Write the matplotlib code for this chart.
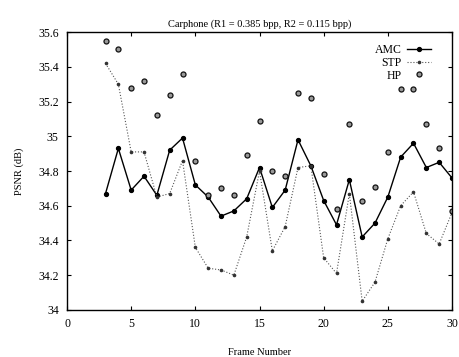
import matplotlib
matplotlib.use("Agg")
import matplotlib.pyplot as plt
from matplotlib.ticker import FuncFormatter

plt.rcParams['font.family'] = ['Liberation Serif', 'DejaVu Serif']

frames = list(range(3, 31))
amc = [34.67, 34.93, 34.69, 34.77, 34.66, 34.92, 34.99, 34.72, 34.65, 34.54,
       34.57, 34.64, 34.82, 34.59, 34.69, 34.98, 34.83, 34.63, 34.49, 34.75,
       34.42, 34.50, 34.65, 34.88, 34.96, 34.82, 34.85, 34.76]
stp = [35.42, 35.30, 34.91, 34.91, 34.65, 34.67, 34.86, 34.36, 34.24, 34.23,
       34.20, 34.42, 34.80, 34.34, 34.48, 34.82, 34.83, 34.30, 34.21, 34.67,
       34.05, 34.16, 34.41, 34.60, 34.68, 34.44, 34.38, 34.56]
hp = [35.55, 35.50, 35.28, 35.32, 35.12, 35.24, 35.36, 34.86, 34.66, 34.70,
      34.66, 34.89, 35.09, 34.80, 34.77, 35.25, 35.22, 34.78, 34.58, 35.07,
      34.63, 34.71, 34.91, 35.27, 35.27, 35.07, 34.93, 34.57]

title = "Carphone (R1 = 0.385 bpp, R2 = 0.115 bpp)"

fig = plt.figure(figsize=(4.6, 3.57), dpi=100)
ax = fig.add_axes([0.1457, 0.132, 0.8369, 0.778])

ax.plot(frames, amc, color='black', lw=1.0, marker='o', ms=2.8, label='AMC')
ax.plot(frames, stp, color='#555555', lw=0.8, ls=':', marker='o', ms=1.6,
        mfc='#333333', mec='#333333', label='STP')
ax.plot(frames, hp, ls='none', marker='o', ms=3.6, mfc='#999999', mec='#111111',
        mew=0.9, label='HP')

ax.set_xlim(0, 30)
ax.set_ylim(34, 35.6)
ax.set_xticks(range(0, 31, 5))
ax.set_yticks([34, 34.2, 34.4, 34.6, 34.8, 35, 35.2, 35.4, 35.6])
ax.yaxis.set_major_formatter(FuncFormatter(lambda v, p: f"{v:g}"))
ax.tick_params(direction='in', top=True, right=True, length=3, width=0.8,
               labelsize=8.5, pad=6)
for s in ax.spines.values():
    s.set_linewidth(1.0)

ax.set_title(title, fontsize=7.5, pad=4)
ax.set_xlabel("Frame Number", fontsize=7.5, labelpad=13)
ax.set_ylabel("PSNR (dB)", fontsize=7.5, labelpad=10)

leg = ax.legend(loc='upper right', markerfirst=False, frameon=False,
                fontsize=8.5, handlelength=2.0, borderaxespad=0.4,
                labelspacing=0.05, handletextpad=0.5,
                bbox_to_anchor=(0.97, 0.99))
for t in leg.get_texts():
    t.set_ha('right')

fig.savefig("out.png", dpi=100)
